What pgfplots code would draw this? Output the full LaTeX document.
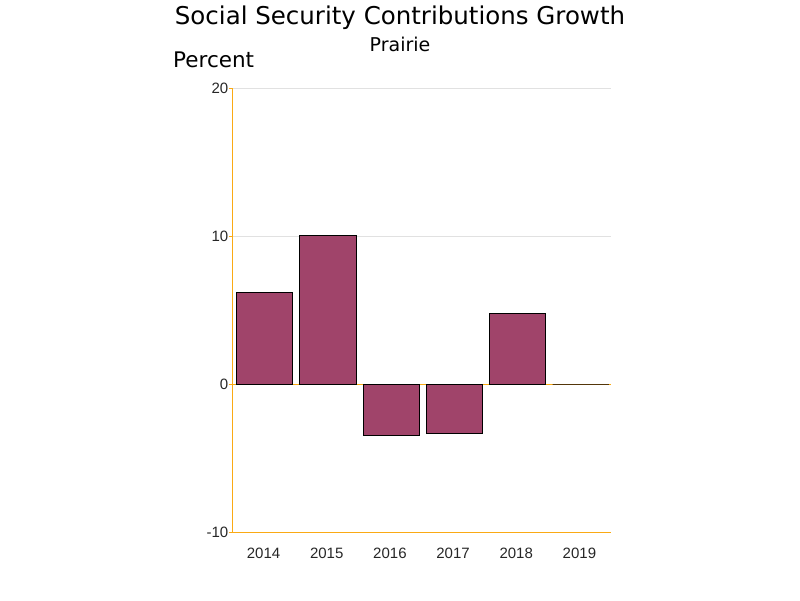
\documentclass[border=0pt]{standalone}
\usepackage{fontspec}
\setmainfont{DejaVu Sans}
\newfontfamily\tickfont{Liberation Sans}
\usepackage{pgfplots}
\pgfplotsset{compat=1.18}
\definecolor{barfill}{RGB}{160,68,106}
\definecolor{axorange}{RGB}{250,170,20}
\definecolor{gridgray}{RGB}{225,225,225}
\begin{document}
\begin{tikzpicture}[x=1pt,y=1pt]
\path[use as bounding box] (0,0) rectangle (800,600);
\node[anchor=base,font=\fontsize{24.5}{28}\selectfont] at (400,575) {Social Security Contributions Growth};
\node[anchor=base,font=\fontsize{19}{22}\selectfont] at (400,548) {Prairie};
\node[anchor=base west,font=\fontsize{21.5}{24}\selectfont,inner sep=0pt] at (173,532) {Percent};
\begin{axis}[
  at={(232pt,68pt)}, anchor=south west,
  scale only axis, width=379pt, height=444pt,
  ymin=-10, ymax=20, ytick={-10,0,10,20},
  xmin=-0.5, xmax=5.5,
  xtick=data, xticklabels={2014,2015,2016,2017,2018,2019},
  axis x line*=bottom, axis y line*=left,
  axis line style={draw=axorange, line width=0.9pt, -},
  ymajorgrids, grid style={draw=gridgray, line width=0.6pt},
  tick style={draw=axorange, line width=0.9pt},
  major tick length=3.5pt, tick align=outside,
  xtick style={draw=none},
  ticklabel style={font=\tickfont\fontsize{15}{18}\selectfont, text=black!85},
  yticklabel style={anchor=east, inner sep=0pt},
  xticklabel style={anchor=base, yshift=-23pt},
  /pgf/number format/assume math mode=true,
  ybar, bar width=0.89,
  clip=false,
]
\draw[axorange, line width=0.9pt] (axis cs:-0.5,0) -- (axis cs:5.5,0);
\addplot[fill=barfill, draw=black, line width=1pt, bar shift=0.02] coordinates {
 (0,6.15) (1,10.0) (2,-3.45) (3,-3.32) (4,4.78) (5,0)};
\end{axis}
\end{tikzpicture}
\end{document}
